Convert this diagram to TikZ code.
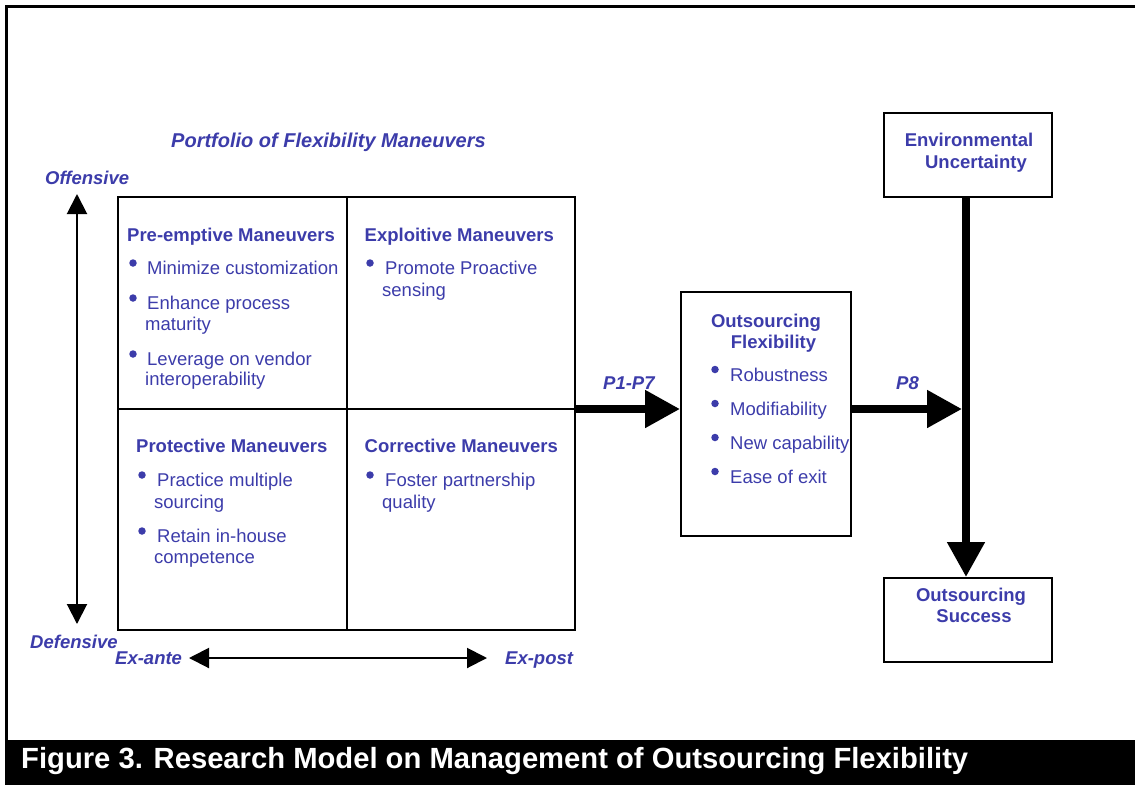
\documentclass[tikz,border=0pt]{standalone}
\usepackage{fontspec}
\setmainfont{Liberation Sans}
\usetikzlibrary{arrows.meta}
\definecolor{mblue}{RGB}{60,60,170}
\begin{document}
\begin{tikzpicture}[x=1pt,y=-1pt,
 txt/.style={anchor=base west,inner sep=0pt,text=mblue,font=\fontsize{18.5}{21}\selectfont},
 head/.style={anchor=base west,inner sep=0pt,text=mblue,font=\fontsize{18.5}{21}\selectfont\bfseries},
 axlab/.style={anchor=base west,inner sep=0pt,text=mblue,font=\fontsize{18.5}{21}\selectfont\bfseries\itshape},
 ctr/.style={anchor=base,inner sep=0pt,text=mblue,font=\fontsize{18.5}{21}\selectfont\bfseries},
 dot/.style={circle,fill=mblue,inner sep=0pt,minimum size=7.5pt},
 box/.style={draw,line width=2pt,inner sep=0pt},
 thinarrow/.style={line width=2pt,{Triangle[length=20pt,width=20pt]}-{Triangle[length=20pt,width=20pt]}},
 thickarrow/.style={line width=8pt,-{Triangle[length=35pt,width=36pt]}}
]
\useasboundingbox (0,0) rectangle (1135,785);
% frame and caption band
\draw[line width=3pt] (6,741) -- (6,6) -- (1135,6);
\fill[black] (5,740) rectangle (1135,785);
\node[anchor=base west,inner sep=0pt,text=white,font=\fontsize{29.2}{31}\selectfont\bfseries] (cap) at (21,768) {Figure 3. Research Model on Management of Outsourcing Flexibility};

% title
\node[axlab,font=\fontsize{20}{24}\selectfont\bfseries\itshape] (title) at (171,147) {Portfolio of Flexibility Maneuvers};

% grid
\node[box,minimum width=457pt,minimum height=433pt] (grid) at (346.5,413.5) {};
\coordinate (mid) at (0,409);
\draw[line width=2pt] (grid.north) -- (grid.south);
\draw[line width=2pt] (grid.west |- mid) -- (grid.east |- mid);

% axes
\coordinate (vtop) at (77,194);
\coordinate (vbot) at (77,624);
\coordinate (hl) at (189,658);
\coordinate (hr) at (487,658);
\draw[thinarrow] (vtop) -- (vbot);
\draw[thinarrow] (hl) -- (hr);
\node[axlab] (off) at (45,184.5) {Offensive};
\node[axlab] (def) at (30,648.5) {Defensive};
\node[axlab] (exa) at (115,664.5) {Ex-ante};
\node[axlab] (exp) at (505,664.5) {Ex-post};

% quadrant 1
\node[head] (h1) at (127,241.6) {Pre-emptive Maneuvers};
\node[dot] (b11) at (133,263) {};
\node[txt] (t11) at (147,274.6) {Minimize customization};
\node[dot] (b12) at (133,298) {};
\node[txt] (t12) at (147,309.6) {Enhance process};
\node[txt] (t12b) at (145,330.6) {maturity};
\node[dot] (b13) at (133,354) {};
\node[txt] (t13) at (147,365.6) {Leverage on vendor};
\node[txt] (t13b) at (145,385.6) {interoperability};

% quadrant 2
\node[head] (h2) at (364.5,241.6) {Exploitive Maneuvers};
\node[dot] (b21) at (370,263) {};
\node[txt] (t21) at (385,274.6) {Promote Proactive};
\node[txt] (t21b) at (382,296.6) {sensing};

% quadrant 3
\node[head] (h3) at (136,452.6) {Protective Maneuvers};
\node[dot] (b31) at (142,475) {};
\node[txt] (t31) at (157,486.6) {Practice multiple};
\node[txt] (t31b) at (154,508.6) {sourcing};
\node[dot] (b32) at (142,531) {};
\node[txt] (t32) at (157,542.6) {Retain in-house};
\node[txt] (t32b) at (154,563.6) {competence};

% quadrant 4
\node[head] (h4) at (364.5,452.6) {Corrective Maneuvers};
\node[dot] (b41) at (370,475) {};
\node[txt] (t41) at (385,486.6) {Foster partnership};
\node[txt] (t41b) at (382,508.6) {quality};

% outsourcing flexibility
\node[box,minimum width=170pt,minimum height=244pt] (flex) at (766,414) {};
\node[ctr] (f1) at (766,327) {Outsourcing};
\node[ctr] (f2) at (773.5,348) {Flexibility};
\node[dot] (fb1) at (715,369.5) {};
\node[txt] (ft1) at (730,381.6) {Robustness};
\node[dot] (fb2) at (715,403.5) {};
\node[txt] (ft2) at (730,415.6) {Modifiability};
\node[dot] (fb3) at (715,437.5) {};
\node[txt] (ft3) at (730,449.6) {New capability};
\node[dot] (fb4) at (715,471.5) {};
\node[txt] (ft4) at (730,483.6) {Ease of exit};

% environmental uncertainty and success
\node[box,minimum width=168pt,minimum height=84pt] (env) at (968,155) {};
\node[ctr] (e1) at (969,146.5) {Environmental};
\node[ctr] (e2) at (976,168) {Uncertainty};
\node[box,minimum width=168pt,minimum height=84pt] (succ) at (968,620) {};
\node[ctr] (s1) at (971,601) {Outsourcing};
\node[ctr] (s2) at (974,622) {Success};

% thick arrows
\coordinate (vx) at (966,0);
\coordinate (join) at (962,409);
\draw[thickarrow] (grid.east |- mid) -- (flex.west |- mid);
\draw[thickarrow] (flex.east |- mid) -- (join);
\draw[thickarrow] (env.south -| vx) -- (succ.north -| vx);
\node[axlab] (p17) at (603,389.5) {P1-P7};
\node[axlab] (p8) at (896,389.5) {P8};
\end{tikzpicture}
\end{document}
